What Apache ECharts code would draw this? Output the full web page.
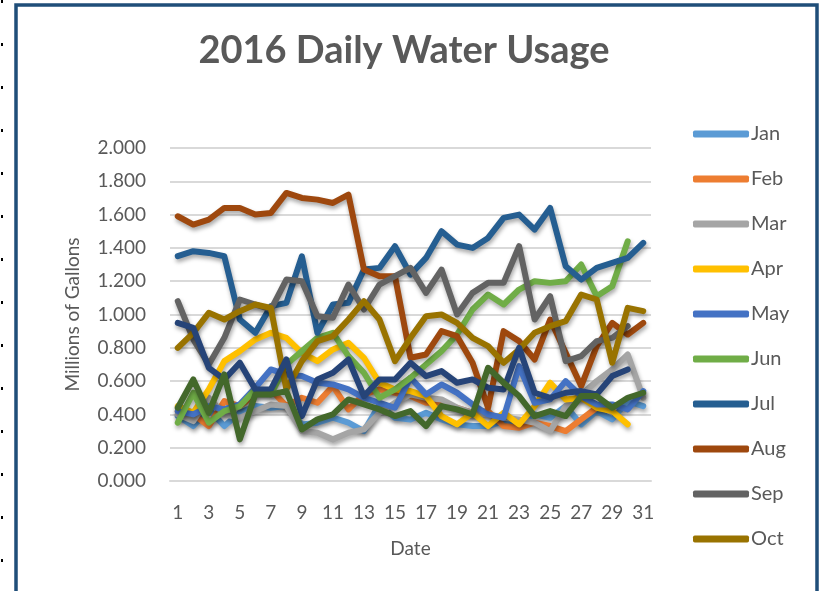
<!DOCTYPE html>
<html><head><meta charset="utf-8">
<script src="https://cdn.jsdelivr.net/npm/echarts@6/dist/echarts.min.js"></script>
<style>html,body{margin:0;padding:0;background:#fff}#c{width:820px;height:591px}</style>
</head><body><div id="c"></div>
<script>
const days = Array.from({length:31},(_,i)=>String(i+1));
const monthNames = ['Jan','Feb','Mar','Apr','May','Jun','Jul','Aug','Sep','Oct','Nov','Dec'];
const legendNames = ['Jan','Feb','Mar','Apr','May','Jun','Jul','Aug','Sep','Oct'];
const colors = ['#5B9BD5','#ED7D31','#A5A5A5','#FFC000','#4472C4','#70AD47','#255E91','#9E480E','#636363','#997300','#264478','#43682B'];

const jan = [0.39,0.33,0.43,0.33,0.41,0.45,0.44,0.45,0.34,0.35,0.38,0.35,0.30,0.46,0.38,0.37,0.41,0.37,0.34,0.33,0.33,0.36,0.35,0.40,0.38,0.45,0.34,0.42,0.37,0.48,0.45];
const feb = [0.42,0.40,0.33,0.48,0.45,0.52,0.55,0.45,0.50,0.47,0.57,0.43,0.52,0.55,0.53,0.51,0.47,0.47,0.44,0.41,0.42,0.33,0.32,0.35,0.33,0.30,0.37,0.44,0.44];
const mar = [0.40,0.36,0.50,0.40,0.38,0.42,0.46,0.45,0.30,0.29,0.25,0.29,0.31,0.41,0.47,0.52,0.50,0.49,0.44,0.41,0.40,0.38,0.37,0.35,0.30,0.45,0.52,0.60,0.67,0.76,0.50];
const apr = [0.45,0.41,0.55,0.72,0.78,0.85,0.89,0.86,0.77,0.72,0.79,0.83,0.74,0.59,0.55,0.54,0.51,0.39,0.34,0.41,0.33,0.41,0.34,0.45,0.59,0.49,0.50,0.44,0.42,0.34];
const may = [0.42,0.40,0.45,0.43,0.46,0.56,0.67,0.64,0.63,0.59,0.58,0.55,0.50,0.47,0.44,0.62,0.52,0.58,0.53,0.46,0.40,0.38,0.69,0.47,0.49,0.60,0.51,0.46,0.46,0.43,0.54];
const jun = [0.35,0.53,0.35,0.42,0.45,0.55,0.52,0.70,0.78,0.86,0.89,0.75,0.65,0.50,0.55,0.62,0.70,0.78,0.88,1.03,1.12,1.06,1.15,1.20,1.19,1.20,1.30,1.11,1.17,1.44];
const jul = [1.35,1.38,1.37,1.35,0.97,0.89,1.05,1.07,1.35,0.89,1.06,1.07,1.27,1.28,1.41,1.24,1.34,1.50,1.42,1.40,1.46,1.58,1.60,1.51,1.64,1.29,1.21,1.28,1.31,1.34,1.43];
const aug = [1.59,1.54,1.57,1.64,1.64,1.60,1.61,1.73,1.70,1.69,1.67,1.72,1.27,1.23,1.23,0.74,0.76,0.90,0.87,0.71,0.44,0.90,0.84,0.73,0.97,0.77,0.57,0.81,0.95,0.88,0.95];
const sep = [1.08,0.85,0.70,0.86,1.09,1.06,1.03,1.21,1.20,0.99,0.98,1.18,1.03,1.18,1.23,1.28,1.13,1.27,1.00,1.13,1.19,1.19,1.41,0.97,1.11,0.72,0.75,0.84,0.86,0.93];
const oct = [0.80,0.89,1.01,0.97,1.02,1.06,1.04,0.55,0.72,0.84,0.87,0.97,1.08,0.97,0.72,0.86,0.99,1.00,0.95,0.86,0.81,0.71,0.79,0.89,0.93,0.96,1.12,1.09,0.71,1.04,1.02];
const nov = [0.95,0.92,0.68,0.61,0.71,0.55,0.55,0.73,0.39,0.61,0.65,0.73,0.51,0.61,0.61,0.71,0.63,0.66,0.59,0.61,0.56,0.55,0.80,0.53,0.50,0.53,0.54,0.52,0.63,0.67];
const dec = [0.44,0.61,0.41,0.64,0.25,0.52,0.52,0.54,0.31,0.37,0.40,0.49,0.46,0.43,0.39,0.42,0.33,0.45,0.43,0.40,0.68,0.59,0.51,0.39,0.42,0.39,0.51,0.51,0.44,0.50,0.53];

const allData = [jan,feb,mar,apr,may,jun,jul,aug,sep,oct,nov,dec];
const FONT = 'Lato, "Open Sans", sans-serif';
const TXT = '#595959';

const chart = echarts.init(document.getElementById('c'), null, {renderer:'canvas'});
chart.setOption({
  animation:false,
  color: colors,
  graphic:[
    {type:'rect', shape:{x:16,y:5,width:801,height:592}, style:{fill:'none', stroke:'#1F4E79', lineWidth:3.5}, z:100},
    {type:'line', shape:{x1:2,y1:0,x2:2,y2:591}, style:{stroke:'#000', lineWidth:2, lineDash:[3,40]}},
    {type:'text', x:404, y:51, style:{text:'2016 Daily Water Usage', font:'bold 38px '+FONT, fill:TXT, textAlign:'center', textVerticalAlign:'middle'}}
  ],
  grid:{left:170, right:169, top:148, bottom:110},
  legend:{
    data: legendNames, orient:'vertical', left:688, top:119,
    icon:'roundRect', itemWidth:56, itemHeight:7, itemGap:25,
    textStyle:{fontFamily:FONT, fontSize:20, color:TXT, lineHeight:20, padding:[0,0,0,-3]}
  },
  xAxis:{
    type:'category', data:days, boundaryGap:true,
    axisTick:{show:false},
    axisLine:{lineStyle:{color:'#D9D9D9', width:2}},
    axisLabel:{interval:1, margin:22, fontFamily:FONT, fontSize:19, color:TXT},
    name:'Date', nameLocation:'middle', nameGap:58,
    nameTextStyle:{fontFamily:FONT, fontSize:19, color:TXT}
  },
  yAxis:{
    type:'value', min:0, max:2, interval:0.2,
    axisLine:{show:false}, axisTick:{show:false},
    splitLine:{lineStyle:{color:'#D9D9D9', width:2}},
    axisLabel:{margin:24, fontFamily:FONT, fontSize:19, color:TXT, formatter:v=>v.toFixed(3)},
    name:'Millions of Gallons', nameLocation:'middle', nameGap:88, nameRotate:90,
    nameTextStyle:{fontFamily:FONT, fontSize:19, color:TXT}
  },
  series: allData.map((d,i)=>({
    name: monthNames[i], type:'line', data:d, symbol:'none', showSymbol:false,
    lineStyle:{width:6, cap:'round', join:'round', color:colors[i],
      shadowColor:'rgba(0,0,0,0.35)', shadowBlur:4, shadowOffsetX:1, shadowOffsetY:3},
    itemStyle:{color:colors[i]}
  }))
});
</script></body></html>
